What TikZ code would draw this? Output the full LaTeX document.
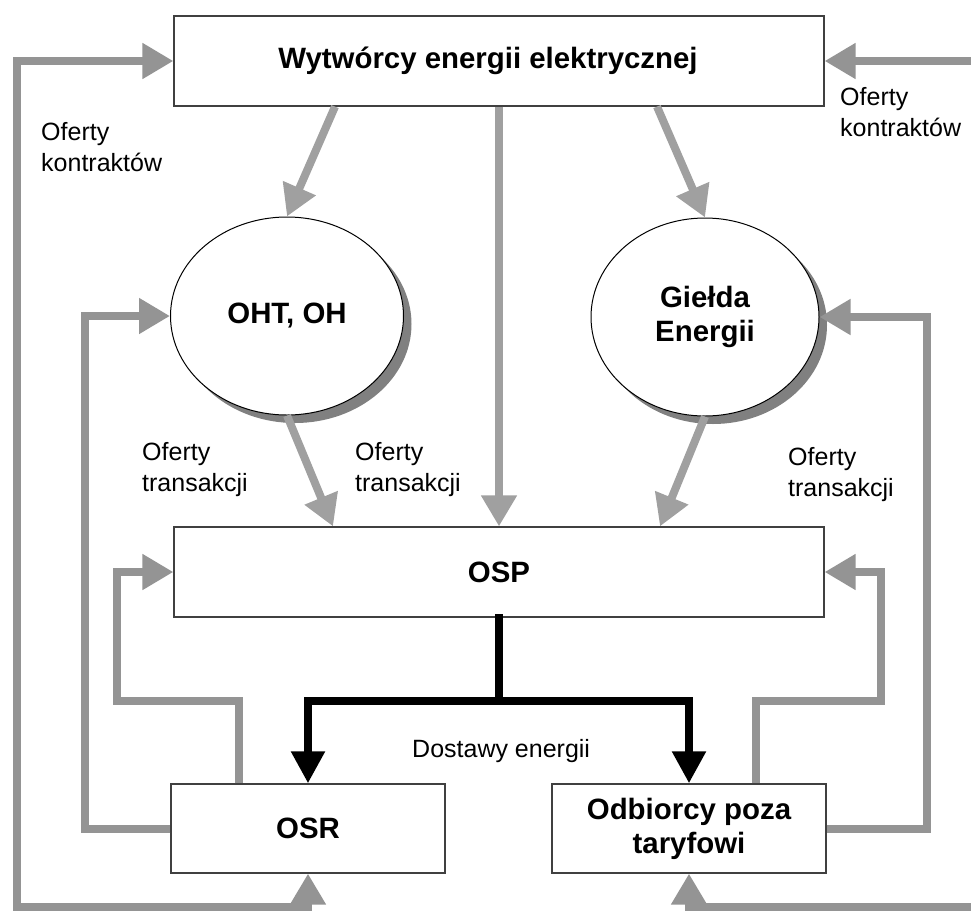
\documentclass[tikz,border=0pt]{standalone}
\usepackage{fontspec}
\setmainfont{Liberation Sans}
\usetikzlibrary{arrows.meta,shapes.geometric,shadows,calc}
\definecolor{linkgray}{RGB}{160,160,160}
\definecolor{loopgray}{RGB}{148,148,148}
\definecolor{edgegray}{RGB}{64,64,64}

\begin{document}
\begin{tikzpicture}[x=1pt,y=-1pt,
  box/.style={draw=edgegray,line width=1.2pt,fill=white,inner sep=0pt,align=center,
    font=\fontsize{29.4}{34}\selectfont\bfseries},
  oval/.style={ellipse,draw=black,line width=1pt,fill=white,inner sep=0pt,align=center,
    font=\fontsize{29.4}{34}\selectfont\bfseries,
    drop shadow={shadow xshift=8pt,shadow yshift=-8pt,fill=black!50,opacity=1}},
  lbl/.style={anchor=base west,inner sep=0pt,font=\fontsize{25}{31.5}\selectfont},
  gtip/.tip={Triangle[length=31pt,width=34pt]},
  feed/.style={draw=linkgray,line width=8pt,-gtip},
  offer/.style={draw=loopgray,line width=8pt,line join=miter,-gtip},
  supply/.style={draw=black,line width=8pt,line join=miter,-{Triangle[length=32pt,width=32pt]}},
  supplystem/.style={draw=black,line width=8pt,line cap=rect}
]
\useasboundingbox (0,0) rectangle (971,913);

% boxes
\node[box,minimum width=650pt,minimum height=90pt,text height=21pt,text depth=7pt] (wyt) at (499,61) {Wytwórcy energii elektrycznej\hspace{22pt}};
\node[box,minimum width=650pt,minimum height=90pt] (osp) at (499,572) {OSP};
\node[box,minimum width=274pt,minimum height=89pt] (osr) at (308,828.5) {OSR};
\node[box,minimum width=274pt,minimum height=89pt] (odb) at (689,828.5) {Odbiorcy poza\\taryfowi};

% markets
\node[oval,minimum width=233pt,minimum height=198pt] (oht) at (287,316) {OHT, OH};
\node[oval,minimum width=228pt,minimum height=198pt] (gie) at (705,317) {Giełda\\Energii};

% labels
\node[lbl] (kontrL) at (41,140) {\begin{tabular}[t]{@{}l@{}}Oferty\\kontraktów\end{tabular}};
\node[lbl] (kontrR) at (840,105) {\begin{tabular}[t]{@{}l@{}}Oferty\\kontraktów\end{tabular}};
\node[lbl] (transA) at (142,460) {\begin{tabular}[t]{@{}l@{}}Oferty\\transakcji\end{tabular}};
\node[lbl] (transB) at (355,460) {\begin{tabular}[t]{@{}l@{}}Oferty\\transakcji\end{tabular}};
\node[lbl] (transC) at (788,465) {\begin{tabular}[t]{@{}l@{}}Oferty\\transakcji\end{tabular}};
\node[lbl] (dost) at (412,757) {Dostawy energii};

% routing points
\coordinate (cornerBL) at (17,907);
\coordinate (edgeTR) at (971,61);
\coordinate (edgeBR) at (971,907);
\coordinate (osrUp) at ($(osr.north)+(-69,0)$);
\coordinate (osrBend) at (117,701);
\coordinate (osrSide) at (85,316);
\coordinate (odbUp) at ($(odb.north)+(67,0)$);
\coordinate (odbBend) at (881,701);
\coordinate (odbSide) at (927,317);
\coordinate (split) at (499,701);

% contract offers
\draw[offer,gtip-gtip] (osr.south) |- (cornerBL) |- (wyt.west);
\draw[offer] (edgeTR) -- (wyt.east);
\draw[offer] (edgeBR) -| (odb.south);

% transaction offers
\draw[offer] (osrUp) |- (osrBend) |- (osp.west);
\draw[offer] (osr.west) -| (osrSide) -- (oht.west);
\draw[offer] (odbUp) |- (odbBend) |- (osp.east);
\draw[offer] (odb.east) -| (odbSide) -- (gie.east);

% flows from producers and markets
\draw[feed] ($(wyt.south)+(-164,0)$) -- (oht.north);
\draw[feed] ($(wyt.south)+(158,0)$) -- (gie.north);
\draw[feed] (wyt.south) -- (osp.north);
\draw[feed] (oht.south) -- ($(osp.north)+(-166,0)$);
\draw[feed] (gie.south) -- ($(osp.north)+(161,0)$);

% energy deliveries
\draw[supplystem] (osp.south) -- (split);
\draw[supply] (split) -| (osr.north);
\draw[supply] (split) -| (odb.north);
\end{tikzpicture}
\end{document}
